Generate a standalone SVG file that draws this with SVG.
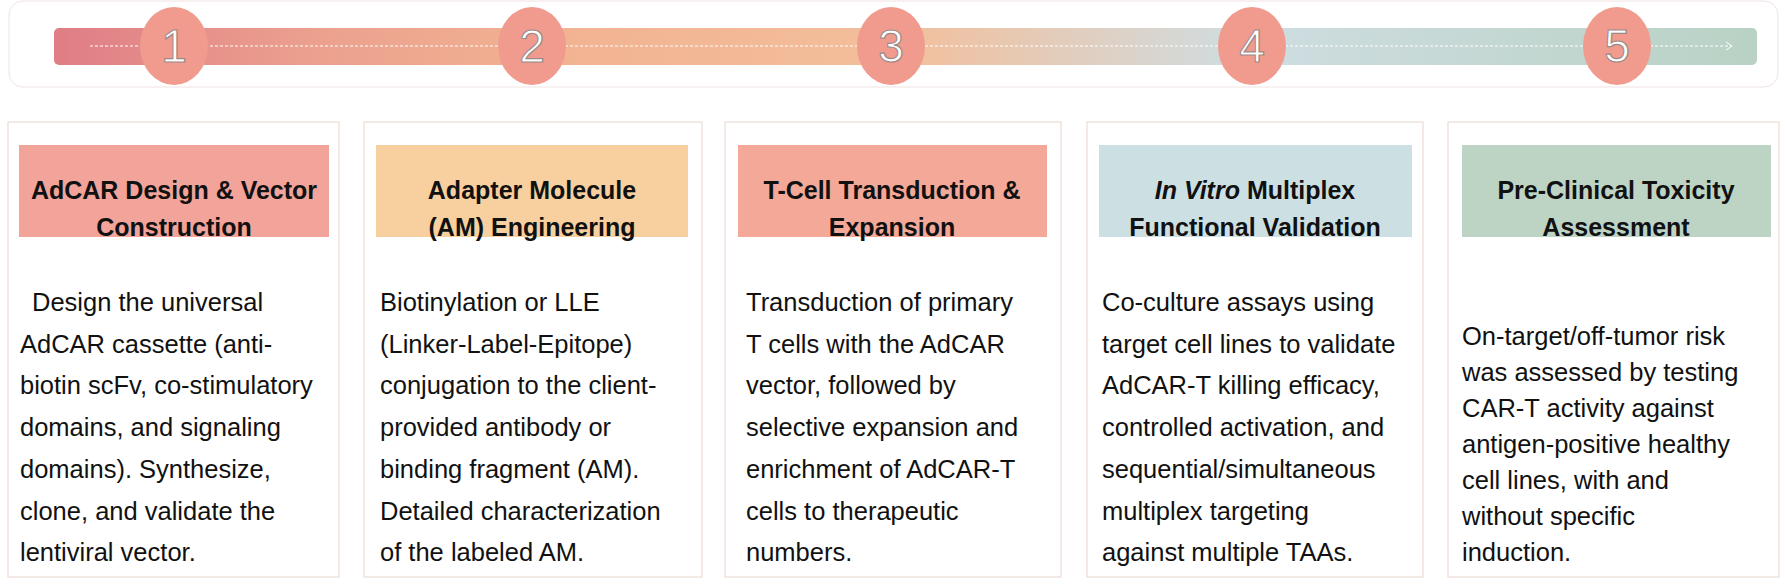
<svg xmlns="http://www.w3.org/2000/svg" width="1785" height="588" viewBox="0 0 1785 588">
<style>
.card{fill:#fff;stroke:#ecdcd6;stroke-width:1.2}
.ttl{font-family:"Liberation Sans",Arial,sans-serif;font-weight:bold;font-size:25px;fill:#111;text-anchor:middle}
.body{font-family:"Liberation Sans",Arial,sans-serif;font-size:25.5px;fill:#111}
.num{font-family:"Liberation Sans",Arial,sans-serif;font-size:46px;fill:#fff;stroke:#9a8a88;stroke-width:1.2;text-anchor:middle}
.step{fill:#f09b8e}
</style>
<defs>
<linearGradient id="bar" x1="0" x2="1" y1="0" y2="0">
<stop offset="0" stop-color="#e07d86"/>
<stop offset="0.15" stop-color="#eba08e"/>
<stop offset="0.3" stop-color="#f2b392"/>
<stop offset="0.5" stop-color="#f3bf9c"/>
<stop offset="0.7" stop-color="#cfdde1"/>
<stop offset="1" stop-color="#b9d2c5"/>
</linearGradient>
<marker id="arr" markerWidth="10" markerHeight="10" refX="8" refY="5" orient="auto" markerUnits="userSpaceOnUse">
<path d="M2,1 L8,5 L2,9" fill="none" stroke="#fff" stroke-width="1"/>
</marker>
</defs>
<rect x="9" y="1" width="1769" height="86" rx="14" fill="#fff" stroke="#eee4e2"/>
<rect x="54" y="28" width="1703" height="37" rx="5" fill="url(#bar)"/>
<g id="connectors">
<line x1="90" y1="46" x2="1732" y2="46" stroke="#fff" stroke-width="1" stroke-dasharray="3,2" marker-end="url(#arr)"/>
</g>
<g id="step1"><ellipse class="step" cx="174" cy="46" rx="34" ry="39"/><text class="num" x="174" y="62">1</text></g>
<g id="step2"><ellipse class="step" cx="532" cy="46" rx="34" ry="39"/><text class="num" x="532" y="62">2</text></g>
<g id="step3"><ellipse class="step" cx="891" cy="46" rx="34" ry="39"/><text class="num" x="891" y="62">3</text></g>
<g id="step4"><ellipse class="step" cx="1252" cy="46" rx="34" ry="39"/><text class="num" x="1252" y="62">4</text></g>
<g id="step5"><ellipse class="step" cx="1617" cy="46" rx="34" ry="39"/><text class="num" x="1617" y="62">5</text></g>

<g id="card1">
<rect class="card" x="8" y="122" width="331" height="455"/>
<rect x="19" y="145" width="310" height="92" fill="#f2a39a"/>
<text class="ttl" x="174" y="199">AdCAR Design &amp; Vector</text>
<text class="ttl" x="174" y="236">Construction</text>
<text class="body" x="20" y="311"><tspan x="32">Design the universal</tspan><tspan x="20" dy="41.7">AdCAR cassette (anti-</tspan><tspan x="20" dy="41.7">biotin scFv, co-stimulatory</tspan><tspan x="20" dy="41.7">domains, and signaling</tspan><tspan x="20" dy="41.7">domains). Synthesize,</tspan><tspan x="20" dy="41.7">clone, and validate the</tspan><tspan x="20" dy="41.7">lentiviral vector.</tspan></text>
</g>
<g id="card2">
<rect class="card" x="364" y="122" width="338" height="455"/>
<rect x="376" y="145" width="312" height="92" fill="#f8cf9e"/>
<text class="ttl" x="532" y="199">Adapter Molecule</text>
<text class="ttl" x="532" y="236">(AM) Engineering</text>
<text class="body" y="311"><tspan x="380">Biotinylation or LLE</tspan><tspan x="380" dy="41.7">(Linker-Label-Epitope)</tspan><tspan x="380" dy="41.7">conjugation to the client-</tspan><tspan x="380" dy="41.7">provided antibody or</tspan><tspan x="380" dy="41.7">binding fragment (AM).</tspan><tspan x="380" dy="41.7">Detailed characterization</tspan><tspan x="380" dy="41.7">of the labeled AM.</tspan></text>
</g>
<g id="card3">
<rect class="card" x="725" y="122" width="336" height="455"/>
<rect x="738" y="145" width="309" height="92" fill="#f3a898"/>
<text class="ttl" x="892" y="199">T-Cell Transduction &amp;</text>
<text class="ttl" x="892" y="236">Expansion</text>
<text class="body" y="311"><tspan x="746">Transduction of primary</tspan><tspan x="746" dy="41.7">T cells with the AdCAR</tspan><tspan x="746" dy="41.7">vector, followed by</tspan><tspan x="746" dy="41.7">selective expansion and</tspan><tspan x="746" dy="41.7">enrichment of AdCAR-T</tspan><tspan x="746" dy="41.7">cells to therapeutic</tspan><tspan x="746" dy="41.7">numbers.</tspan></text>
</g>
<g id="card4">
<rect class="card" x="1087" y="122" width="336" height="455"/>
<rect x="1099" y="145" width="313" height="92" fill="#cce0e4"/>
<text class="ttl" x="1255" y="199"><tspan font-style="italic">In Vitro</tspan> Multiplex</text>
<text class="ttl" x="1255" y="236">Functional Validation</text>
<text class="body" y="311"><tspan x="1102">Co-culture assays using</tspan><tspan x="1102" dy="41.7">target cell lines to validate</tspan><tspan x="1102" dy="41.7">AdCAR-T killing efficacy,</tspan><tspan x="1102" dy="41.7">controlled activation, and</tspan><tspan x="1102" dy="41.7">sequential/simultaneous</tspan><tspan x="1102" dy="41.7">multiplex targeting</tspan><tspan x="1102" dy="41.7">against multiple TAAs.</tspan></text>
</g>
<g id="card5">
<rect class="card" x="1448" y="122" width="331" height="455"/>
<rect x="1462" y="145" width="309" height="92" fill="#bdd4c4"/>
<text class="ttl" x="1616" y="199">Pre-Clinical Toxicity</text>
<text class="ttl" x="1616" y="236">Assessment</text>
<text class="body" y="345"><tspan x="1462">On-target/off-tumor risk</tspan><tspan x="1462" dy="36">was assessed by testing</tspan><tspan x="1462" dy="36">CAR-T activity against</tspan><tspan x="1462" dy="36">antigen-positive healthy</tspan><tspan x="1462" dy="36">cell lines, with and</tspan><tspan x="1462" dy="36">without specific</tspan><tspan x="1462" dy="36">induction.</tspan></text>
</g>
</svg>
